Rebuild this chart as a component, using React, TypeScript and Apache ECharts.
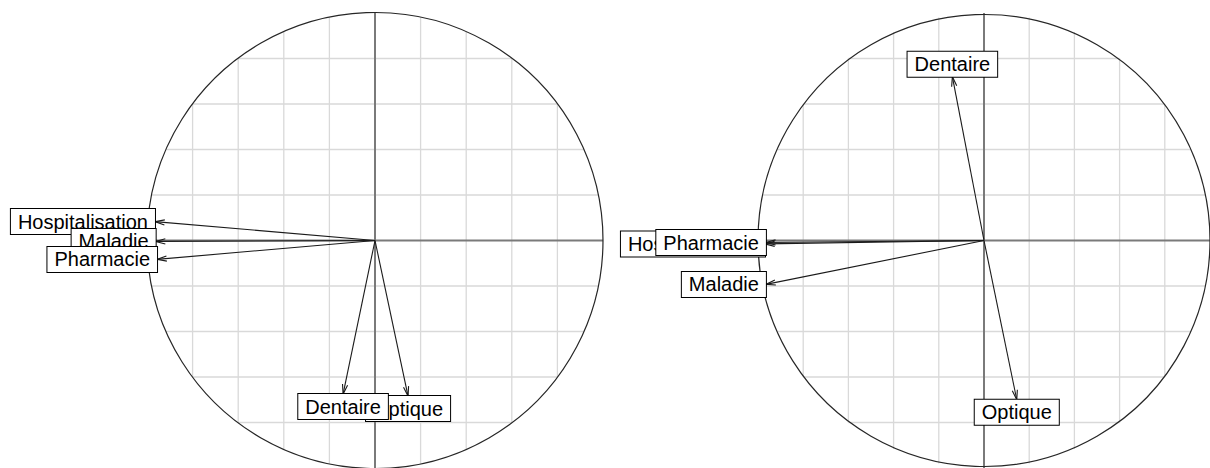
import React, { useEffect, useRef } from 'react';
import * as echarts from 'echarts';

const VARIABLES = ['Hospitalisation', 'Maladie', 'Pharmacie', 'Optique', 'Dentaire'];
const LEFT_X = [-0.965, -0.962, -0.956, 0.145, -0.14];
const LEFT_Y = [0.083, -0.004, -0.083, -0.684, -0.675];
const RIGHT_X = [-0.969, -0.965, -0.965, 0.145, -0.14];
const RIGHT_Y = [-0.015, -0.193, -0.009, -0.7, 0.72];
const GRID_VALUES = [-0.8, -0.6, -0.4, -0.2, 0.2, 0.4, 0.6, 0.8];

const FONT = '"Liberation Sans", Arial, Helvetica, sans-serif';

function frameRender(params: any, api: any) {
  const c = api.coord([0, 0]);
  const r = api.size([1, 1])[0];
  const children: any[] = [];
  GRID_VALUES.forEach((v) => {
    const h = Math.sqrt(1 - v * v);
    const a = api.coord([-h, v]);
    const b = api.coord([h, v]);
    children.push({ type: 'line', shape: { x1: a[0], y1: a[1], x2: b[0], y2: b[1] }, style: { stroke: '#d9d9d9', lineWidth: 1.3 } });
    const a2 = api.coord([v, -h]);
    const b2 = api.coord([v, h]);
    children.push({ type: 'line', shape: { x1: a2[0], y1: a2[1], x2: b2[0], y2: b2[1] }, style: { stroke: '#d9d9d9', lineWidth: 1.3 } });
  });
  const l = api.coord([-1, 0]);
  const rr = api.coord([1, 0]);
  const t = api.coord([0, 1]);
  const bt = api.coord([0, -1]);
  children.push({ type: 'line', shape: { x1: l[0], y1: l[1], x2: rr[0], y2: rr[1] }, style: { stroke: '#7a7a7a', lineWidth: 2 } });
  children.push({ type: 'line', shape: { x1: t[0], y1: t[1], x2: bt[0], y2: bt[1] }, style: { stroke: '#7a7a7a', lineWidth: 2 } });
  children.push({ type: 'circle', shape: { cx: c[0], cy: c[1], r }, style: { fill: 'none', stroke: '#262626', lineWidth: 1.2 } });
  return { type: 'group', children };
}

function arrowRender(params: any, api: any) {
  const p0 = api.coord([0, 0]);
  const p1 = api.coord([api.value(0), api.value(1)]);
  const th = Math.atan2(p1[1] - p0[1], p1[0] - p0[0]);
  const L = 10;
  const phi = (15 * Math.PI) / 180;
  const h1 = [p1[0] - L * Math.cos(th - phi), p1[1] - L * Math.sin(th - phi)];
  const h2 = [p1[0] - L * Math.cos(th + phi), p1[1] - L * Math.sin(th + phi)];
  const st = { stroke: '#1a1a1a', lineWidth: 1.1, fill: 'none' };
  return {
    type: 'group',
    children: [
      { type: 'line', shape: { x1: p0[0], y1: p0[1], x2: p1[0], y2: p1[1] }, style: st },
      { type: 'polyline', shape: { points: [h1, p1, h2] }, style: st },
    ],
  };
}

function labelRender(names: string[]) {
  return (params: any, api: any) => {
    const x = api.value(0);
    const y = api.value(1);
    const p = api.coord([x, y]);
    let align = 'center';
    let vAlign = 'middle';
    if (Math.abs(x) >= Math.abs(y)) {
      align = x < 0 ? 'right' : 'left';
    } else {
      vAlign = y < 0 ? 'top' : 'bottom';
    }
    return {
      type: 'text',
      x: p[0],
      y: p[1],
      style: {
        text: names[params.dataIndex],
        fontSize: 20,
        fontFamily: FONT,
        fill: '#000',
        align,
        verticalAlign: vAlign,
        lineHeight: 21,
        backgroundColor: '#fff',
        borderColor: '#000',
        borderWidth: 1,
        padding: [2, 7, 2, 7],
      },
    };
  };
}

function panelSeries(idx: number, xs: number[], ys: number[]) {
  const pts = xs.map((x, i) => [x, ys[i]]);
  return [
    {
      type: 'custom', xAxisIndex: idx, yAxisIndex: idx, silent: true, z: 1,
      data: [[0, 0]], renderItem: frameRender,
    },
    {
      type: 'custom', xAxisIndex: idx, yAxisIndex: idx, silent: true, z: 2,
      data: pts, renderItem: arrowRender,
    },
    {
      type: 'custom', xAxisIndex: idx, yAxisIndex: idx, silent: true, z: 3,
      data: pts, renderItem: labelRender(VARIABLES),
    },
  ];
}

export default function App() {
  const ref = useRef<HTMLDivElement>(null);
  useEffect(() => {
    document.body.style.margin = '0';
    if (!ref.current) return;
    const chart = echarts.init(ref.current, null, { renderer: 'svg' });
    const R = 228;
    const axisCommon = { type: 'value', min: -1, max: 1, show: false };
    chart.setOption({
      animation: false,
      backgroundColor: '#fff',
      grid: [
        { left: 375 - R, top: 13, width: 2 * R, height: 2 * R },
        { left: 986 - R, top: 13, width: 2 * R, height: 2 * R },
      ],
      xAxis: [
        { ...axisCommon, gridIndex: 0 },
        { ...axisCommon, gridIndex: 1 },
      ],
      yAxis: [
        { ...axisCommon, gridIndex: 0 },
        { ...axisCommon, gridIndex: 1 },
      ],
      series: [...panelSeries(0, LEFT_X, LEFT_Y), ...panelSeries(1, RIGHT_X, RIGHT_Y)],
    });
    return () => chart.dispose();
  }, []);
  return <div ref={ref} style={{ width: 1210, height: 468 }} />;
}
